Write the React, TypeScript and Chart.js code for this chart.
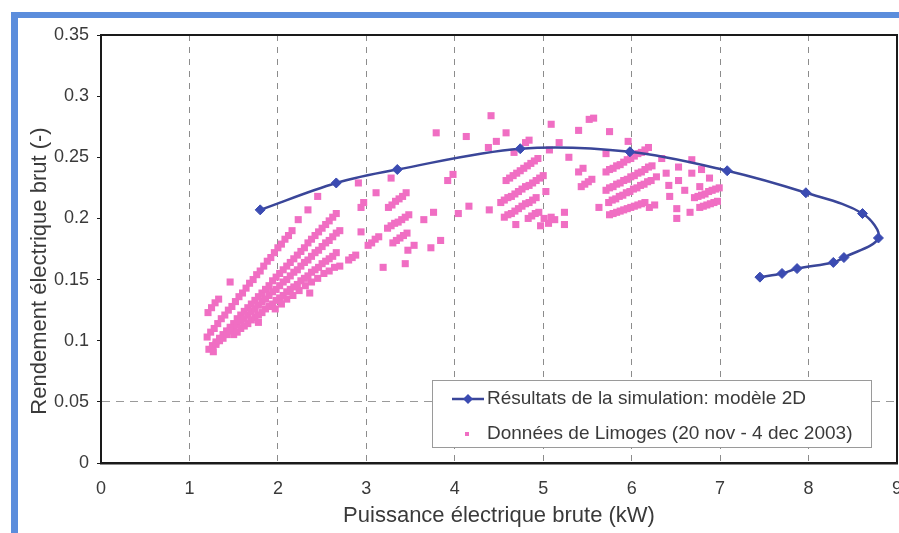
import React, { useEffect, useRef } from 'react';
import { Chart, registerables } from 'chart.js';

Chart.register(...registerables);

// ---------- data ----------
const seriesNames = [
  'Résultats de la simulation: modèle 2D',
  'Données de Limoges (20 nov - 4 dec 2003)',
];
const xTitle = 'Puissance électrique brute (kW)';
const yTitle = 'Rendement électrique brut (-)';
const xTickLabels = ['0', '1', '2', '3', '4', '5', '6', '7', '8', '9'];
const yTickLabels = ['0', '0.05', '0.1', '0.15', '0.2', '0.25', '0.3', '0.35'];

// Simulation (model 2D)
const simX = [1.80, 2.66, 3.35, 4.74, 5.98, 7.08, 7.97, 8.61, 8.79, 8.40, 8.28, 7.87, 7.70, 7.45];
const simY = [0.207, 0.229, 0.240, 0.257, 0.2545, 0.239, 0.221, 0.204, 0.184, 0.168, 0.164, 0.159, 0.155, 0.152];

// Limoges measurements, grouped by power range
const limogesLow: [number, number][] = [
  [1.21, 0.123], [1.25, 0.127], [1.29, 0.131], [1.33, 0.134],
  [1.20, 0.103], [1.24, 0.107], [1.28, 0.110], [1.32, 0.114], [1.36, 0.118], [1.40, 0.121], [1.44, 0.125],
  [1.48, 0.128], [1.52, 0.132], [1.56, 0.136], [1.60, 0.139], [1.64, 0.143], [1.68, 0.147], [1.72, 0.150],
  [1.76, 0.154], [1.80, 0.157], [1.84, 0.161], [1.88, 0.165], [1.92, 0.168], [1.96, 0.172], [2.00, 0.176],
  [2.04, 0.179], [2.08, 0.183], [2.12, 0.186], [2.16, 0.190],
  [2.23, 0.199], [2.34, 0.207], [2.45, 0.218],
  [1.22, 0.093], [1.26, 0.096], [1.30, 0.099], [1.34, 0.102], [1.38, 0.105], [1.42, 0.108], [1.46, 0.111],
  [1.50, 0.114], [1.54, 0.118], [1.58, 0.121], [1.62, 0.124], [1.66, 0.127], [1.70, 0.130], [1.74, 0.133],
  [1.78, 0.136], [1.82, 0.139], [1.86, 0.142], [1.90, 0.145], [1.94, 0.149], [1.98, 0.152], [2.02, 0.155],
  [2.06, 0.158], [2.10, 0.161], [2.14, 0.164], [2.18, 0.167], [2.22, 0.170], [2.26, 0.173], [2.30, 0.176],
  [2.34, 0.180], [2.38, 0.183], [2.42, 0.186], [2.46, 0.189], [2.50, 0.192], [2.54, 0.195], [2.58, 0.198],
  [2.62, 0.201], [2.66, 0.204],
  [1.30, 0.097], [1.34, 0.100], [1.38, 0.102], [1.42, 0.105], [1.46, 0.108], [1.50, 0.110], [1.54, 0.113],
  [1.58, 0.116], [1.62, 0.118], [1.66, 0.121], [1.70, 0.124], [1.74, 0.126], [1.78, 0.129], [1.82, 0.132],
  [1.86, 0.134], [1.90, 0.137], [1.94, 0.140], [1.98, 0.142], [2.02, 0.145], [2.06, 0.148], [2.10, 0.150],
  [2.14, 0.153], [2.18, 0.156], [2.22, 0.158], [2.26, 0.161], [2.30, 0.164], [2.34, 0.166], [2.38, 0.169],
  [2.42, 0.172], [2.46, 0.174], [2.50, 0.177], [2.54, 0.180], [2.58, 0.182], [2.62, 0.185], [2.66, 0.188],
  [2.70, 0.190],
  [1.50, 0.105], [1.54, 0.107], [1.58, 0.110], [1.62, 0.112], [1.66, 0.114], [1.70, 0.117], [1.74, 0.119],
  [1.78, 0.121], [1.82, 0.123], [1.86, 0.126], [1.90, 0.128], [1.94, 0.130], [1.98, 0.133], [2.02, 0.135],
  [2.06, 0.137], [2.10, 0.140], [2.14, 0.142], [2.18, 0.144], [2.22, 0.146], [2.26, 0.149], [2.30, 0.151],
  [2.34, 0.153], [2.38, 0.156], [2.42, 0.158], [2.46, 0.160], [2.50, 0.163], [2.54, 0.165], [2.58, 0.167],
  [2.62, 0.169], [2.66, 0.172],
  [1.97, 0.126], [2.04, 0.130], [2.10, 0.134], [2.17, 0.137], [2.24, 0.141], [2.31, 0.145], [2.38, 0.148],
  [2.45, 0.151], [2.52, 0.155], [2.58, 0.157], [2.64, 0.160], [2.70, 0.161],
  [1.46, 0.148], [1.78, 0.115], [2.36, 0.139], [1.27, 0.091],
];

const limogesMid: [number, number][] = [
  [2.80, 0.166], [2.84, 0.168], [2.88, 0.170],
  [3.02, 0.178], [3.06, 0.180], [3.10, 0.183], [3.14, 0.185],
  [2.94, 0.209], [2.97, 0.213],
  [3.25, 0.209], [3.29, 0.211], [3.33, 0.214], [3.37, 0.216], [3.41, 0.218], [3.45, 0.221],
  [3.24, 0.192], [3.28, 0.194], [3.32, 0.196], [3.36, 0.197], [3.40, 0.199], [3.44, 0.201], [3.48, 0.203],
  [3.30, 0.180], [3.34, 0.182], [3.38, 0.184], [3.42, 0.186], [3.46, 0.188],
  [2.91, 0.229], [3.11, 0.221], [3.28, 0.233], [2.94, 0.189], [3.19, 0.160], [3.44, 0.163],
  [3.47, 0.174], [3.54, 0.178], [3.73, 0.176], [3.84, 0.182], [3.65, 0.199], [3.76, 0.205],
  [3.92, 0.231], [3.98, 0.236], [4.04, 0.204], [3.79, 0.270], [4.16, 0.210], [4.39, 0.207],
];

const limogesHigh: [number, number][] = [
  [4.58, 0.231], [4.62, 0.233], [4.66, 0.235], [4.70, 0.237], [4.74, 0.239], [4.78, 0.241], [4.82, 0.243],
  [4.86, 0.245], [4.90, 0.247], [4.94, 0.249],
  [4.52, 0.213], [4.56, 0.215], [4.60, 0.217], [4.64, 0.218], [4.68, 0.220], [4.72, 0.222], [4.76, 0.224],
  [4.80, 0.226], [4.84, 0.227], [4.88, 0.229], [4.92, 0.231], [4.96, 0.233], [5.00, 0.235],
  [4.56, 0.201], [4.60, 0.203], [4.64, 0.204], [4.68, 0.206], [4.72, 0.208], [4.76, 0.210], [4.80, 0.212],
  [4.84, 0.213], [4.88, 0.215], [4.92, 0.217],
  [4.83, 0.200], [4.87, 0.202], [4.91, 0.204], [4.95, 0.205],
  [4.13, 0.267], [4.41, 0.284], [4.47, 0.263], [4.38, 0.258], [4.58, 0.270], [4.84, 0.264], [4.80, 0.262],
  [5.09, 0.277], [5.18, 0.262], [5.40, 0.272], [5.52, 0.281], [5.29, 0.250], [5.07, 0.256], [4.67, 0.254],
  [5.40, 0.238], [5.45, 0.241], [5.03, 0.222], [5.01, 0.200], [5.09, 0.201], [4.69, 0.195], [4.97, 0.194],
  [5.06, 0.196], [5.13, 0.199], [5.24, 0.205], [5.24, 0.195],
  [5.43, 0.226], [5.47, 0.228], [5.51, 0.230], [5.55, 0.232],
];

const limogesTop: [number, number][] = [
  [5.71, 0.238], [5.75, 0.240], [5.79, 0.241], [5.83, 0.243], [5.87, 0.244], [5.91, 0.246], [5.95, 0.248],
  [5.99, 0.249], [6.03, 0.251], [6.07, 0.253], [6.11, 0.254], [6.15, 0.256], [6.19, 0.258],
  [5.71, 0.223], [5.75, 0.225], [5.79, 0.226], [5.83, 0.228], [5.87, 0.229], [5.91, 0.231], [5.95, 0.232],
  [5.99, 0.234], [6.03, 0.235], [6.07, 0.237], [6.11, 0.238], [6.15, 0.240], [6.19, 0.242], [6.23, 0.243],
  [5.74, 0.213], [5.78, 0.215], [5.82, 0.216], [5.86, 0.218], [5.90, 0.219], [5.94, 0.221], [5.98, 0.222],
  [6.02, 0.224], [6.06, 0.225], [6.10, 0.227], [6.14, 0.228], [6.18, 0.230], [6.22, 0.231],
  [5.75, 0.203], [5.79, 0.204], [5.83, 0.205], [5.87, 0.206], [5.91, 0.207], [5.95, 0.208], [5.99, 0.209],
  [6.03, 0.210], [6.07, 0.211], [6.11, 0.212], [6.15, 0.213],
  [6.71, 0.217], [6.75, 0.218], [6.79, 0.219], [6.83, 0.220], [6.87, 0.222], [6.91, 0.223], [6.95, 0.224],
  [6.99, 0.225],
  [6.77, 0.209], [6.81, 0.210], [6.85, 0.211], [6.89, 0.212], [6.93, 0.213], [6.97, 0.214],
  [5.57, 0.282], [5.75, 0.271], [5.96, 0.263], [5.71, 0.253], [5.63, 0.209], [6.20, 0.209], [6.26, 0.211],
  [6.34, 0.249], [6.39, 0.237], [6.28, 0.234], [6.53, 0.242], [6.53, 0.231], [6.42, 0.227], [6.43, 0.218],
  [6.60, 0.223], [6.51, 0.208], [6.51, 0.200], [6.68, 0.248], [6.68, 0.237], [6.66, 0.205], [6.79, 0.240],
  [6.88, 0.233], [6.77, 0.226],
];

// ---------- styles ----------
const FONT = '"Liberation Sans", Arial, Helvetica, sans-serif';
const TEXT = '#3a3a3a';
const SIM_LINE = '#3a4699';
const SIM_MARK = '#3b4bb2';
const PINK = '#f06ec3';
const FRAME_BLUE = '#5b8ddc';

const overlayPlugin = {
  id: 'overlay',
  afterDraw(chart: any) {
    const { ctx, chartArea } = chart;
    const { left, top, right, bottom } = chartArea;
    ctx.save();
    // top & right plot frame
    ctx.strokeStyle = '#1a1a1a';
    ctx.lineWidth = 2;
    ctx.beginPath();
    ctx.moveTo(left, top);
    ctx.lineTo(right, top);
    ctx.lineTo(right, bottom);
    ctx.stroke();

    // y axis title
    ctx.save();
    ctx.translate(40, 271);
    ctx.rotate(-Math.PI / 2);
    ctx.font = `22px ${FONT}`;
    ctx.fillStyle = TEXT;
    ctx.textAlign = 'center';
    ctx.textBaseline = 'middle';
    ctx.fillText(yTitle, 0, 0);
    ctx.restore();

    // legend
    const lx = 432.5, ly = 380.5, lw = 439, lh = 67;
    ctx.fillStyle = '#ffffff';
    ctx.fillRect(lx, ly, lw, lh);
    ctx.strokeStyle = '#9a9a9a';
    ctx.lineWidth = 1;
    ctx.strokeRect(lx, ly, lw, lh);

    const r1 = 399, r2 = 434;
    ctx.strokeStyle = SIM_LINE;
    ctx.lineWidth = 2.5;
    ctx.beginPath();
    ctx.moveTo(452, r1);
    ctx.lineTo(484, r1);
    ctx.stroke();
    ctx.fillStyle = SIM_MARK;
    ctx.beginPath();
    ctx.moveTo(468, r1 - 5);
    ctx.lineTo(473, r1);
    ctx.lineTo(468, r1 + 5);
    ctx.lineTo(463, r1);
    ctx.closePath();
    ctx.fill();

    ctx.fillStyle = PINK;
    ctx.fillRect(465, r2 - 2, 4, 4);

    ctx.font = `19px ${FONT}`;
    ctx.fillStyle = TEXT;
    ctx.textAlign = 'left';
    ctx.textBaseline = 'middle';
    ctx.fillText(seriesNames[0], 487, r1);
    ctx.fillText(seriesNames[1], 487, r2);
    ctx.restore();
  },
};

export default function App() {
  const canvasRef = useRef<HTMLCanvasElement | null>(null);

  useEffect(() => {
    const canvas = canvasRef.current;
    if (!canvas) return;
    const limoges = [...limogesLow, ...limogesMid, ...limogesHigh, ...limogesTop];
    const chart = new Chart(canvas, {
      type: 'scatter',
      data: {
        datasets: [
          {
            label: seriesNames[0],
            data: simX.map((x, i) => ({ x, y: simY[i] })),
            showLine: true,
            tension: 0.35,
            borderColor: SIM_LINE,
            borderWidth: 2.5,
            pointStyle: 'rectRot',
            pointRadius: 5,
            pointBackgroundColor: SIM_MARK,
            pointBorderColor: SIM_MARK,
            pointBorderWidth: 1,
            order: 0,
          } as any,
          {
            label: seriesNames[1],
            data: limoges.map(([x, y]) => ({ x, y })),
            pointStyle: 'rect',
            pointRadius: 5,
            pointBackgroundColor: PINK,
            pointBorderColor: PINK,
            pointBorderWidth: 0,
            order: 1,
          } as any,
        ],
      },
      options: {
        responsive: false,
        animation: false,
        devicePixelRatio: 1,
        layout: { padding: { left: 0, top: 35, right: 23, bottom: 0 } },
        plugins: {
          legend: { display: false },
          tooltip: { enabled: false },
        },
        scales: {
          x: {
            type: 'linear',
            min: 0,
            max: 9,
            afterFit: (s: any) => {
              s.height = 70;
            },
            ticks: {
              stepSize: 1,
              autoSkip: false,
              maxRotation: 0,
              padding: 15,
              color: TEXT,
              font: { family: FONT, size: 18 },
              callback: (_v: any, i: number) => xTickLabels[i],
            },
            grid: {
              color: (c: any) =>
                c.tick && c.tick.value > 0 && c.tick.value < 9 ? '#8c8c8c' : 'rgba(0,0,0,0)',
              lineWidth: 1,
              drawTicks: false,
            },
            border: { display: true, color: '#1a1a1a', width: 2.5, dash: [6, 6] },
            title: {
              display: true,
              text: xTitle,
              color: TEXT,
              font: { family: FONT, size: 22 },
              padding: { top: 0, bottom: 4 },
            },
          },
          y: {
            type: 'linear',
            min: 0,
            max: 0.35,
            afterFit: (s: any) => {
              s.width = 101;
            },
            ticks: {
              stepSize: 0.05,
              padding: 8,
              color: TEXT,
              font: { family: FONT, size: 18 },
              callback: (_v: any, i: number) => yTickLabels[i],
            },
            grid: {
              color: (c: any) =>
                c.tick && Math.abs(c.tick.value - 0.05) < 1e-9 ? '#9a9a9a' : 'rgba(0,0,0,0)',
              tickColor: '#1a1a1a',
              tickLength: 4,
              lineWidth: 1,
            },
            border: { display: true, color: '#1a1a1a', width: 2, dash: [8, 6] },
          },
        },
      } as any,
      plugins: [overlayPlugin],
    });
    return () => chart.destroy();
  }, []);

  return (
    <div
      style={{
        position: 'fixed',
        left: 0,
        top: 0,
        width: 899,
        height: 533,
        overflow: 'hidden',
        background: '#ffffff',
      }}
    >
      <div
        style={{
          position: 'absolute',
          left: 11,
          top: 12,
          width: 2000,
          height: 2000,
          borderLeft: `7px solid ${FRAME_BLUE}`,
          borderTop: `6px solid ${FRAME_BLUE}`,
        }}
      />
      <canvas
        ref={canvasRef}
        width={920}
        height={533}
        style={{ position: 'absolute', left: 0, top: 0, width: 920, height: 533 }}
      />
    </div>
  );
}
